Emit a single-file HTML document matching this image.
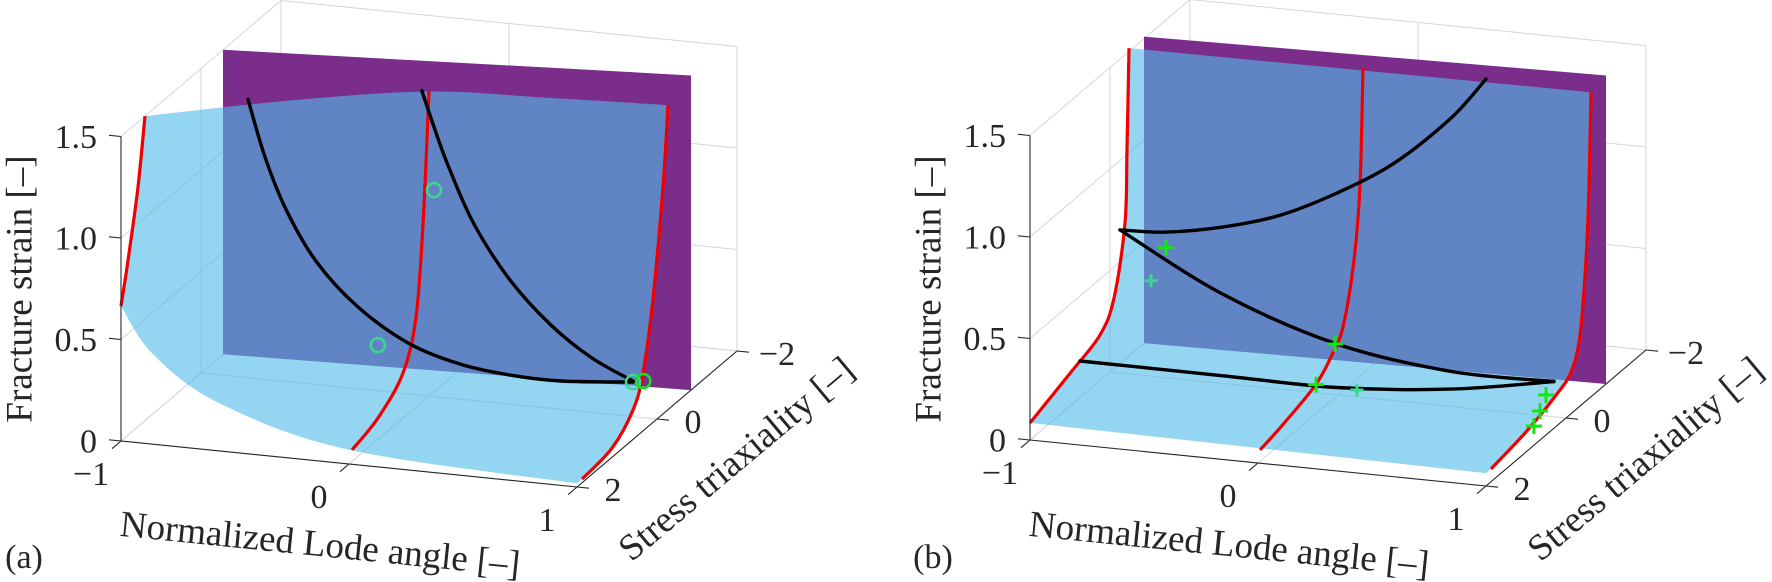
<!DOCTYPE html>
<html><head><meta charset="utf-8"><title>Fracture strain surfaces</title>
<style>
html,body{margin:0;padding:0;background:#fff;}
svg{display:block;}
text{font-family:"Liberation Serif","Times New Roman","DejaVu Serif",serif;fill:#262626;}
</style></head>
<body>
<svg id="fig" width="1772" height="582" viewBox="0 0 1772 582" xmlns="http://www.w3.org/2000/svg">
<g id="panelA"></g>
<g id="panelB"></g>
</svg>
<script>
// ---------- tick labels ----------
const zTicks = [0, 0.5, 1.0, 1.5];
const zTickLabels = ["0", "0.5", "1.0", "1.5"];
const lodeTicks = [-1, 0, 1];
const lodeTickLabels = ["\u22121", "0", "1"];
const triaxTicks = [2, 0, -2];
const triaxTickLabels = ["2", "0", "\u22122"];

// ---------- panel (a) data ----------
const aLeftTriax = [2, 1.825, 1.575, 1.4];
const aLeftStrain = [0.665, 0.86, 1.18, 1.5];
const aMidTriax = [1.925, 1.275, 0.65, 0.325, 0.15, 0];
const aMidStrain = [0.057, 0.105, 0.222, 0.443, 0.87, 1.5];
const aRightTriax = [1.875, 1.125, 0.6, 0.35, 0.1, -0.15, -0.275];
const aRightStrain = [0.018, 0.045, 0.145, 0.285, 0.608, 1.118, 1.5];
const aTopLode = [-1, -0.5, 0, 0.5, 1];
const aTopTriax = [1.4, 0.6, 0, -0.15, -0.275];
const aTopStrain = [1.5, 1.5, 1.5, 1.5, 1.5];
const aFrontLode = [1, 0, -0.57, -0.86, -1];
const aFrontStrain = [0.018, 0.07, 0.236, 0.444, 0.665];
const aPlaneLode = [-1, 1];
const aPlaneTriax = [-0.55, -0.85];
const aPlaneTop = [1.5, 1.55];
const aBlk1Lode = [-0.68, -0.618, -0.539, -0.42, -0.253, -0.041, 0.17, 0.381, 0.592, 0.895];
const aBlk1Triax = [0.65, 0.578, 0.506, 0.433, 0.361, 0.289, 0.217, 0.144, 0.072, 0];
const aBlk1Strain = [1.494, 1.204, 0.944, 0.69, 0.475, 0.305, 0.214, 0.17, 0.153, 0.17];
const aBlk2Lode = [-0.031, 0.022, 0.088, 0.197, 0.355, 0.535, 0.715, 0.895];
const aBlk2Triax = [0, 0, 0, 0, 0, 0, 0, 0];
const aBlk2Strain = [1.5, 1.328, 1.133, 0.87, 0.612, 0.41, 0.268, 0.175];
const aTealLode = [0.022, -0.154, 0.895];
const aTealTriax = [0, 0.4, 0];
const aTealStrain = [1.017, 0.30, 0.17];
const aBrightLode = [0.94];
const aBrightTriax = [0];
const aBrightStrain = [0.18];

// ---------- panel (b) data ----------
const bLeftTriax = [2, 0.975, 0.25, -0.1, -0.375, -0.425, -0.475];
const bLeftStrain = [0.084, 0.163, 0.224, 0.347, 0.671, 1.03, 1.516];
const bMidTriax = [1.95, 1.45, 0.6, 0.175, -0.125, -0.4, -0.55, -0.625];
const bMidStrain = [0.056, 0.081, 0.14, 0.217, 0.315, 0.598, 0.94, 1.51];
const bRightTriax = [1.875, 1.0, 0.3, -0.125, -0.35, -0.5, -0.575, -0.625];
const bRightStrain = [0.063, 0.099, 0.15, 0.205, 0.35, 0.695, 1.047, 1.5];
const bTopLode = [-1, 1];
const bTopTriax = [-0.475, -0.625];
const bTopStrain = [1.516, 1.5];
const bFrontLode = [1, -1];
const bFrontStrain = [0.063, 0.084];
const bPlaneLode = [-1, 1];
const bPlaneTriax = [-0.85, -1.0];
const bPlaneTop = [1.51, 1.52];
const bBlkALode = [-1, -0.798, -0.548, -0.298, -0.048, 0.202, 0.452, 0.605];
const bBlkATriax = [-0.25, -0.25, -0.25, -0.25, -0.25, -0.25, -0.25, -0.25];
const bBlkAStrain = [0.658, 0.67, 0.724, 0.81, 0.948, 1.123, 1.374, 1.583];
const bBlkBLode = [-1, -0.522, 0.004, 0.531, 1];
const bBlkBTriax = [-0.25, -0.1, 0.05, 0.2, 0.3];
const bBlkBStrain = [0.658, 0.42, 0.26, 0.21, 0.23];
const bBlkCLode = [-1, -0.399, 0.083, 0.566, 1];
const bBlkCTriax = [0.75, 0.6, 0.5, 0.4, 0.3];
const bBlkCStrain = [0.18, 0.15, 0.13, 0.16, 0.23];
const bBrightLode = [-0.754, -0.013, -0.096, 1.0, 0.974, 0.947];
const bBrightTriax = [0, 0, 0, 0.5, 0.5, 0.5];
const bBrightStrain = [0.64, 0.25, 0.04, 0.197, 0.115, 0.038];
const bTealLode = [-0.82, 0.083];
const bTealTriax = [0, 0];
const bTealStrain = [0.47, 0.034];

// ---------- axis functions ----------
const NS = "http://www.w3.org/2000/svg";
const FONT = '"Liberation Serif", "Times New Roman", "DejaVu Serif", serif';
const LODE_MIN = -1, LODE_MAX = 1, TRI_FRONT = 2, TRI_BACK = -2, Z_MAX = 1.5;
function proj(P, lode, tri, z) {
  return [P.ox + 228 * (lode + 1) - 40 * (tri - 2),
          P.oy + 23 * (lode + 1) + 34 * (tri - 2) - 203 * z];
}
function el(tag, attrs, parent) {
  const e = document.createElementNS(NS, tag);
  for (const k in attrs) e.setAttribute(k, attrs[k]);
  parent.appendChild(e);
  return e;
}
function crSeg(pts, start) {
  let d = (start ? "M" : "L") + pts[0][0].toFixed(1) + "," + pts[0][1].toFixed(1);
  for (let i = 0; i < pts.length - 1; i++) {
    const p0 = pts[i - 1] || pts[i], p1 = pts[i], p2 = pts[i + 1], p3 = pts[i + 2] || pts[i + 1];
    const c1 = [p1[0] + (p2[0] - p0[0]) / 6, p1[1] + (p2[1] - p0[1]) / 6];
    const c2 = [p2[0] - (p3[0] - p1[0]) / 6, p2[1] - (p3[1] - p1[1]) / 6];
    d += "C" + c1[0].toFixed(1) + "," + c1[1].toFixed(1) + " " + c2[0].toFixed(1) + "," + c2[1].toFixed(1) + " " + p2[0].toFixed(1) + "," + p2[1].toFixed(1);
  }
  return d;
}
function pts3(P, lodes, tris, zs) {
  return lodes.map((l, i) => proj(P, l, tris[i], zs[i]));
}
function fill(n, v) { return new Array(n).fill(v); }

function drawPanel(g, P, D, label) {
  const grid = el("g", {stroke: "#d6d6d6", "stroke-width": 1, fill: "none"}, g);
  
  
  function gl(a, b) {
    const l = el("line", {x1: a[0], y1: a[1], x2: b[0], y2: b[1]}, grid);
    
    
  }
  lodeTicks.forEach(x => { gl(proj(P, x, TRI_FRONT, 0), proj(P, x, TRI_BACK, 0)); gl(proj(P, x, TRI_BACK, 0), proj(P, x, TRI_BACK, Z_MAX)); });
  triaxTicks.forEach(y => { gl(proj(P, LODE_MIN, y, 0), proj(P, LODE_MAX, y, 0)); gl(proj(P, LODE_MIN, y, 0), proj(P, LODE_MIN, y, Z_MAX)); });
  zTicks.forEach(z => { gl(proj(P, LODE_MIN, TRI_FRONT, z), proj(P, LODE_MIN, TRI_BACK, z)); gl(proj(P, LODE_MIN, TRI_BACK, z), proj(P, LODE_MAX, TRI_BACK, z)); });

  const pl = [proj(P, D.planeLode[0], D.planeTriax[0], 0), proj(P, D.planeLode[1], D.planeTriax[1], 0),
              proj(P, D.planeLode[1], D.planeTriax[1], D.planeTop[1]), proj(P, D.planeLode[0], D.planeTriax[0], D.planeTop[0])];
  const plane = el("polygon", {points: pl.map(p => p.join(",")).join(" "), fill: "#7b2d8b"}, g);
  
  

  const left = pts3(P, fill(D.leftTriax.length, -1), D.leftTriax, D.leftStrain);
  const top = pts3(P, D.topLode, D.topTriax, D.topStrain);
  const right = pts3(P, fill(D.rightTriax.length, 1), D.rightTriax, D.rightStrain).reverse();
  const front = pts3(P, D.frontLode, fill(D.frontLode.length, 2), D.frontStrain);
  const d = crSeg(left, true) + crSeg(top, false) + crSeg(right, false) + crSeg(front, false) + "Z";
  const surf = el("path", {d: d, fill: "rgb(82,187,234)", "fill-opacity": 0.614}, g);
  
  

  [[-1, D.leftTriax, D.leftStrain], [0, D.midTriax, D.midStrain], [1, D.rightTriax, D.rightStrain]].forEach(c => {
    const p = pts3(P, fill(c[1].length, c[0]), c[1], c[2]);
    const r = el("path", {d: crSeg(p, true), fill: "none", stroke: "#f00000", "stroke-width": 3.2}, g);
    
    
  });
  D.black.forEach(c => {
    const p = pts3(P, c[0], c[1], c[2]);
    const b = el("path", {d: crSeg(p, true), fill: "none", stroke: "#000", "stroke-width": 3.4, "stroke-linecap": "round"}, g);
    
    
  });
  function marker(p, color, big) {
    if (D.markerType === "o") {
      const c = el("circle", {cx: p[0], cy: p[1], r: 7, fill: "none", stroke: color, "stroke-width": 2.6}, g);
      
      
    } else {
      const s = big ? 8 : 6.5;
      const m = el("path", {d: "M" + (p[0] - s) + "," + p[1] + "H" + (p[0] + s) + "M" + p[0] + "," + (p[1] - s) + "V" + (p[1] + s), stroke: color, "stroke-width": 3, fill: "none"}, g);
      
      
    }
  }
  D.teal[0].forEach((l, i) => marker(proj(P, l, D.teal[1][i], D.teal[2][i]), "#3cd68f", false));
  D.bright[0].forEach((l, i) => marker(proj(P, l, D.bright[1][i], D.bright[2][i]), "#14e614", true));

  const ax = el("g", {stroke: "#262626", "stroke-width": 1.1, fill: "none"}, g);
  
  
  function al(a, b, name) {
    const l = el("line", {x1: a[0], y1: a[1], x2: b[0], y2: b[1]}, ax);
    
    
  }
  al(proj(P, LODE_MIN, TRI_FRONT, 0), proj(P, LODE_MAX, TRI_FRONT, 0), 'lode-axis-line');
  al(proj(P, LODE_MAX, TRI_FRONT, 0), proj(P, LODE_MAX, TRI_BACK, 0), 'triax-axis-line');
  al(proj(P, LODE_MIN, TRI_FRONT, 0), proj(P, LODE_MIN, TRI_FRONT, Z_MAX), 'z-axis-line');
  const tg = el("g", {}, g);
  
  
  function tx(x, y, s, size, anchor, name, rot) {
    const t = el("text", {x: x, y: y, "font-size": size, "text-anchor": anchor, "font-family": FONT}, tg);
    if (rot) t.setAttribute("transform", "rotate(" + rot + " " + x + " " + y + ")");
    t.textContent = s;
    
    
    return t;
  }
  zTicks.forEach((z, i) => {
    const p = proj(P, LODE_MIN, TRI_FRONT, z);
    al(p, [p[0] - 12, p[1] - 1.2], 'z-tick');
    tx(p[0] - 24, p[1] + 11.5, zTickLabels[i], 34, "end", 'z-tick-label');
  });
  lodeTicks.forEach((x, i) => {
    const p = proj(P, x, TRI_FRONT, 0);
    al(p, [p[0] - 9, p[1] + 7.7], 'lode-tick');
    tx(p[0] - 30, p[1] + 44, lodeTickLabels[i], 34, "middle", 'lode-tick-label');
  });
  triaxTicks.forEach((y, i) => {
    const p = proj(P, LODE_MAX, y, 0);
    al(p, [p[0] + 12, p[1] + 1.2], 'triax-tick');
    tx(p[0] + 36 + (i === 2 ? 4 : 0), p[1] + 14, triaxTickLabels[i], 34, "middle", 'triax-tick-label');
  });
  const o = P.ox;
  tx(o - 101, 289, "Fracture strain [\u2013]", 37, "middle", 'z-axis-title', -90).setAttribute("dominant-baseline", "central");
  tx(o + 198, 556, "Normalized Lode angle [\u2013]", 37, "middle", 'lode-axis-title', 5.8);
  tx(o + 623, 468, "Stress triaxiality [\u2013]", 37, "middle", 'triax-axis-title', -40);
  tx(o - 97, 568, label, 34, "middle", 'panel-label');
}

drawPanel(document.getElementById("panelA"), {ox: 121, oy: 441}, {
  leftTriax: aLeftTriax, leftStrain: aLeftStrain, midTriax: aMidTriax, midStrain: aMidStrain,
  rightTriax: aRightTriax, rightStrain: aRightStrain, topLode: aTopLode, topTriax: aTopTriax, topStrain: aTopStrain,
  frontLode: aFrontLode, frontStrain: aFrontStrain, planeLode: aPlaneLode, planeTriax: aPlaneTriax, planeTop: aPlaneTop,
  black: [[aBlk1Lode, aBlk1Triax, aBlk1Strain], [aBlk2Lode, aBlk2Triax, aBlk2Strain]],
  teal: [aTealLode, aTealTriax, aTealStrain], bright: [aBrightLode, aBrightTriax, aBrightStrain], markerType: "o"
}, "(a)");

drawPanel(document.getElementById("panelB"), {ox: 1030, oy: 440}, {
  leftTriax: bLeftTriax, leftStrain: bLeftStrain, midTriax: bMidTriax, midStrain: bMidStrain,
  rightTriax: bRightTriax, rightStrain: bRightStrain, topLode: bTopLode, topTriax: bTopTriax, topStrain: bTopStrain,
  frontLode: bFrontLode, frontStrain: bFrontStrain, planeLode: bPlaneLode, planeTriax: bPlaneTriax, planeTop: bPlaneTop,
  black: [[bBlkALode, bBlkATriax, bBlkAStrain], [bBlkBLode, bBlkBTriax, bBlkBStrain], [bBlkCLode, bBlkCTriax, bBlkCStrain]],
  teal: [bTealLode, bTealTriax, bTealStrain], bright: [bBrightLode, bBrightTriax, bBrightStrain], markerType: "+"
}, "(b)");
</script>
</body></html>
